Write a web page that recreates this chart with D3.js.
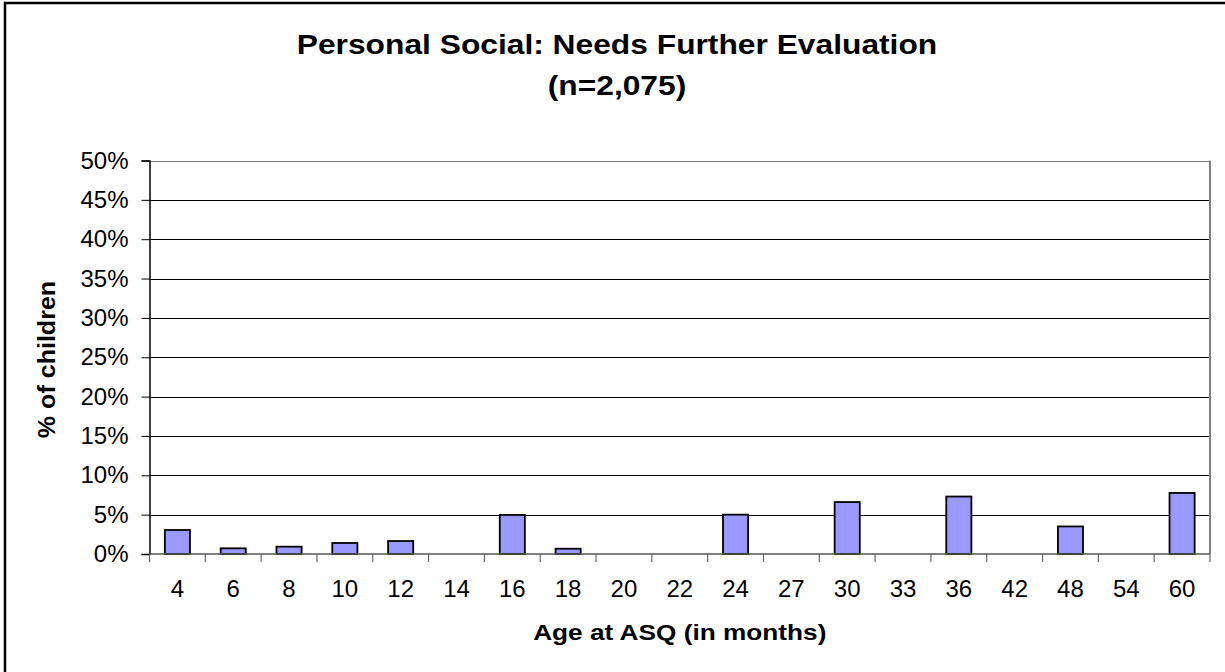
<!DOCTYPE html>
<html>
<head>
<meta charset="utf-8">
<script src="https://cdn.jsdelivr.net/npm/d3@7"></script>
<style>
  html, body { margin: 0; padding: 0; background: #fff; }
  svg { display: block; font-family: "Liberation Sans", Arial, sans-serif; }
</style>
</head>
<body>
<svg id="chart" width="1225" height="672"></svg>
<script>
// Age at ASQ (months) and share of children needing further evaluation (%)
const ages = ["4", "6", "8", "10", "12", "14", "16", "18", "20", "22", "24", "27", "30", "33", "36", "42", "48", "54", "60"];
const percents = [3.05, 0.72, 0.93, 1.4, 1.65, 0, 4.96, 0.67, 0, 0, 5.0, 0, 6.6, 0, 7.3, 0, 3.5, 0, 7.76];
const yTicks = [0, 5, 10, 15, 20, 25, 30, 35, 40, 45, 50];

const titleLines = ["Personal Social: Needs Further Evaluation", "(n=2,075)"];
const xTitle = "Age at ASQ (in months)";
const yTitle = "% of children";

const svg = d3.select("#chart");
const W = 1225, H = 672;
const plot = { left: 149.5, right: 1210, top: 160.5, bottom: 554 };

// outer chart frame
svg.append("rect")
  .attr("x", 5).attr("y", 3)
  .attr("width", W + 10).attr("height", H + 10)
  .attr("fill", "#fff").attr("stroke", "#000").attr("stroke-width", 2.5);

const x = d3.scaleBand()
  .domain(ages)
  .range([plot.left, plot.right])
  .paddingInner(0.55).paddingOuter(0.275);

const y = d3.scaleLinear().domain([0, 50]).range([plot.bottom, plot.top]);

// horizontal gridlines
svg.append("g")
  .selectAll("line")
  .data(yTicks.filter(d => d > 0))
  .join("line")
  .attr("x1", plot.left).attr("x2", plot.right)
  .attr("y1", d => Math.round(y(d)) + 0.5).attr("y2", d => Math.round(y(d)) + 0.5)
  .attr("stroke", d => d === 50 ? "#808080" : "#000")
  .attr("stroke-width", 1);

// plot area right border
svg.append("line")
  .attr("x1", plot.right).attr("x2", plot.right)
  .attr("y1", plot.top).attr("y2", plot.bottom)
  .attr("stroke", "#808080").attr("stroke-width", 2);

// bars
svg.append("g")
  .selectAll("rect")
  .data(ages.map((a, i) => ({ age: a, v: percents[i] })).filter(d => d.v > 0))
  .join("rect")
  .attr("x", d => x(d.age))
  .attr("y", d => y(d.v))
  .attr("width", x.bandwidth())
  .attr("height", d => y(0) - y(d.v))
  .attr("fill", "#9999FF")
  .attr("stroke", "#000")
  .attr("stroke-width", 1.8);

// y axis
const yAxis = svg.append("g")
  .attr("transform", `translate(${plot.left},0)`)
  .call(d3.axisLeft(y).tickValues(yTicks).tickFormat(d => d + "%").tickSize(8).tickPadding(13));
yAxis.select(".domain").attr("stroke", "#000").attr("stroke-width", 1.5);
yAxis.selectAll(".tick line").attr("stroke", "#000");
yAxis.selectAll(".tick text")
  .attr("font-size", 24).attr("fill", "#000")
  .attr("font-family", "Liberation Sans, Arial, sans-serif");

// x axis with ticks between categories
const xAxis = svg.append("g").attr("transform", `translate(0,${plot.bottom})`);
xAxis.append("line")
  .attr("x1", plot.left).attr("x2", plot.right)
  .attr("y1", 0).attr("y2", 0)
  .attr("stroke", "#555").attr("stroke-width", 1.5);
const boundaries = d3.range(ages.length + 1).map(i => plot.left + i * (plot.right - plot.left) / ages.length);
xAxis.selectAll("line.tk")
  .data(boundaries)
  .join("line")
  .attr("class", "tk")
  .attr("x1", d => d).attr("x2", d => d)
  .attr("y1", 0).attr("y2", 8)
  .attr("stroke", "#666").attr("stroke-width", 1.2);
xAxis.selectAll("text")
  .data(ages)
  .join("text")
  .attr("x", d => x(d) + x.bandwidth() / 2)
  .attr("y", 43)
  .attr("text-anchor", "middle")
  .attr("font-size", 24)
  .attr("fill", "#000")
  .text(d => d);

// titles (bold text is drawn slightly wide)
svg.append("g")
  .selectAll("text")
  .data(titleLines)
  .join("text")
  .attr("transform", (d, i) => `translate(617,${54 + i * 40.5}) scale(1.176,1)`)
  .attr("text-anchor", "middle")
  .attr("font-size", 27)
  .attr("font-weight", "bold")
  .attr("fill", "#000")
  .text(d => d);

svg.append("text")
  .attr("transform", `translate(${(plot.left + plot.right) / 2},640) scale(1.22,1)`)
  .attr("text-anchor", "middle")
  .attr("font-size", 21.5)
  .attr("font-weight", "bold")
  .text(xTitle);

svg.append("text")
  .attr("transform", `translate(55,359.5) rotate(-90) scale(1.09,1)`)
  .attr("text-anchor", "middle")
  .attr("font-size", 23)
  .attr("font-weight", "bold")
  .text(yTitle);
</script>
</body>
</html>
